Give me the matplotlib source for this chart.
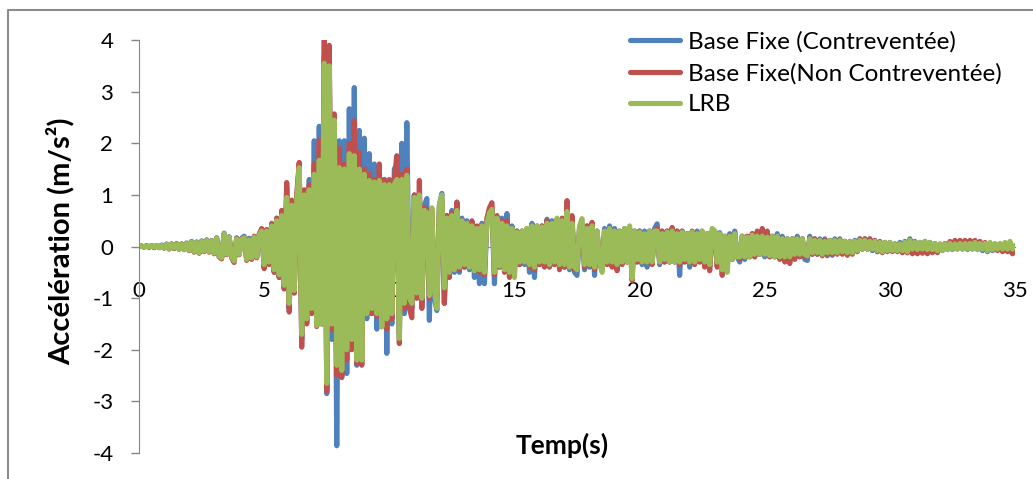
import numpy as np
import matplotlib
matplotlib.use('Agg')
import matplotlib.pyplot as plt
from matplotlib.lines import Line2D

plt.rcParams['font.family'] = ['Lato', 'DejaVu Sans']
plt.rcParams['axes.unicode_minus'] = False

# sampling step of the records (s)
dt = 0.1

# acceleration, one row per second (m/s2)
base_fixe_contreventee = [
    0, 0.01, -0.01, 0.02, -0.01, 0.02, -0.02, 0.02, -0.02, 0.03,
    -0.03, 0.05, -0.04, 0.05, -0.04, 0.06, -0.05, 0.05, -0.06, 0.07,
    -0.07, 0.1, -0.1, 0.09, -0.12, 0.11, -0.09, 0.13, -0.1, 0.12,
    -0.13, 0.17, -0.19, -0.22, 0.26, -0.15, 0.19, -0.2, -0.29, 0.17,
    -0.15, 0.16, 0.2, -0.25, 0.16, -0.22, 0.19, -0.2, 0.23, 0.32,
    -0.4, 0.32, -0.33, 0.42, -0.5, 0.55, -0.6, 0.65, -0.82, 1.15,
    -1.2, 0.85, -0.9, 0.95, 1.55, -1.8, 1.05, -1.45, 1.3, -1.25,
    2.05, -1.5, 2.33, -1.5, 3.7, -2.85, 3.6, -1.8, 2.4, -3.86,
    2.05, -2.5, 2.05, -2.46, 2.67, -1.9, 3.08, -2.3, 2.25, -1.68,
    2.1, -1.4, 1.8, -1.3, 1.6, -1.6, 1.5, -1.5, 1.3, -2.07,
    1.3, -1.5, 1.5, 1.6, -1.7, 2.0, -1.3, 2.4, -1.18, -1.2,
    1.0, -1.0, 1.0, -1.1, 0.8, 0.93, -1.43, 0.7, -1.0, -1.24,
    0.8, 1.03, -1.1, 0.6, -0.55, 0.7, -0.5, 0.86, -0.5, 0.55,
    -0.4, 0.5, -0.45, 0.4, -0.6, 0.35, -0.72, 0.45, -0.72, 0.5,
    0.7, 0.75, -0.72, 0.5, -0.4, 0.55, -0.45, 0.64, -0.5, 0.4,
    -0.4, 0.3, -0.35, 0.3, -0.35, 0.35, -0.5, 0.45, -0.6, 0.4,
    -0.35, 0.4, -0.35, 0.53, -0.35, 0.5, -0.35, 0.45, -0.4, 0.5,
    -0.4, 0.75, -0.45, 0.5, -0.5, -0.56, 0.35, 0.45, -0.45, 0.4,
    -0.4, 0.4, -0.56, 0.3, -0.35, -0.45, 0.35, -0.3, 0.4, -0.35,
    0.35, -0.4, 0.3, -0.3, 0.35, -0.3, 0.35, -0.5, 0.3, -0.3,
    0.3, -0.35, 0.3, -0.4, 0.3, -0.3, 0.35, 0.44, -0.35, 0.3,
    -0.3, 0.3, -0.3, 0.35, -0.3, 0.3, -0.56, 0.3, -0.3, 0.25,
    -0.4, 0.28, -0.3, 0.3, -0.3, 0.25, -0.35, 0.25, -0.4, 0.3,
    0.3, -0.3, 0.27, -0.35, 0.2, -0.3, 0.25, -0.25, 0.3, -0.2,
    -0.3, 0.2, -0.25, 0.2, -0.2, 0.25, -0.2, 0.2, -0.15, 0.2,
    -0.2, 0.2, -0.2, 0.2, -0.2, 0.25, -0.2, 0.2, -0.2, 0.15,
    -0.25, 0.15, -0.2, 0.2, -0.2, 0.15, -0.25, -0.27, 0.2, -0.15,
    0.15, -0.15, 0.15, -0.15, 0.15, -0.18, 0.12, -0.17, 0.15, -0.12,
    0.15, -0.12, 0.1, -0.12, 0.1, -0.1, 0.12, -0.08, 0.15, -0.05,
    0.15, -0.05, 0.15, -0.08, 0.1, -0.1, 0.08, -0.1, 0.08, -0.08,
    0.08, -0.08, 0.05, -0.08, 0.08, -0.1, 0.1, -0.12, 0.15, -0.05,
    0.1, -0.05, 0.08, -0.06, 0.1, -0.05, 0.08, -0.06, 0.06, -0.08,
    0.05, -0.08, 0.05, -0.06, 0.06, -0.06, 0.05, -0.05, 0.06, -0.05,
    0.06, -0.06, 0.08, -0.05, 0.06, -0.06, 0.08, -0.08, 0.06, -0.1,
    0.06, -0.08, 0.05, -0.06, 0.05, -0.06, 0.06, -0.05, 0.08, -0.08,
    -0.04]

base_fixe_non_contreventee = [
    0, 0.01, -0.01, 0.01, -0.02, 0.02, -0.02, 0.02, -0.02, 0.02,
    -0.03, 0.04, -0.05, 0.05, -0.04, 0.05, -0.05, 0.05, -0.06, 0.06,
    -0.08, 0.09, -0.11, 0.08, -0.13, 0.1, -0.1, 0.12, -0.11, 0.11,
    -0.14, 0.16, -0.2, -0.24, 0.24, -0.16, 0.18, -0.22, -0.31, 0.16,
    -0.16, 0.15, 0.18, -0.27, 0.14, -0.25, 0.2, -0.22, 0.24, 0.35,
    -0.43, 0.33, -0.35, 0.45, -0.5, 0.55, -0.6, 0.7, -0.82, 1.24,
    -1.27, 0.9, -0.9, 1.0, 1.63, -1.95, 1.1, -1.5, 1.2, -1.3,
    1.6, -1.55, 2.05, -1.5, 4.0, -2.8, 3.9, -1.6, 2.57, -2.5,
    1.9, -2.54, 1.6, -2.2, 2.0, -2.0, 2.44, -2.27, 1.82, -2.3,
    1.5, -1.3, 1.4, -1.3, 1.3, -1.35, 1.6, -1.4, 1.3, -1.6,
    1.28, -1.4, 1.3, 1.76, -1.88, 1.4, -1.2, 1.5, -1.2, -1.38,
    1.0, -1.0, 1.28, -1.2, 0.75, 0.7, -1.0, 0.7, -0.9, -1.0,
    0.75, 0.9, -1.1, 0.6, -0.6, 0.65, -0.45, 0.86, -0.45, 0.5,
    -0.4, 0.45, -0.4, 0.5, -0.45, 0.4, -0.5, 0.4, -0.55, 0.55,
    0.75, 0.85, -0.55, 0.6, -0.4, 0.5, -0.5, 0.5, -0.6, 0.35,
    -0.45, 0.3, -0.35, 0.3, -0.3, 0.3, -0.4, 0.4, -0.45, 0.35,
    -0.35, 0.4, -0.4, 0.5, -0.4, 0.45, -0.35, 0.5, -0.45, 0.55,
    -0.4, 0.89, -0.4, 0.6, -0.45, -0.45, 0.35, 0.45, -0.4, 0.4,
    -0.35, 0.47, -0.45, 0.3, -0.3, -0.4, 0.3, -0.35, 0.35, -0.4,
    0.3, -0.47, 0.3, -0.35, 0.3, -0.3, 0.35, -0.66, 0.3, -0.3,
    0.3, -0.3, 0.25, -0.3, 0.3, -0.35, 0.3, 0.35, -0.3, 0.3,
    -0.3, 0.3, -0.3, 0.37, -0.3, 0.3, -0.35, 0.3, -0.3, 0.25,
    -0.3, 0.3, -0.35, 0.25, -0.3, 0.3, -0.4, 0.25, -0.47, 0.3,
    0.25, -0.4, 0.25, -0.56, 0.2, -0.35, 0.2, -0.25, 0.25, -0.2,
    -0.25, 0.2, -0.2, 0.2, -0.2, 0.25, -0.2, 0.3, -0.15, 0.35,
    -0.15, 0.3, -0.2, 0.2, -0.2, 0.2, -0.25, 0.15, -0.3, 0.15,
    -0.33, 0.15, -0.25, 0.15, -0.2, 0.15, -0.2, -0.15, 0.15, -0.15,
    0.15, -0.15, 0.12, -0.18, 0.12, -0.15, 0.12, -0.15, 0.12, -0.15,
    0.12, -0.15, 0.1, -0.17, 0.1, -0.15, 0.1, -0.1, 0.15, -0.05,
    0.15, -0.05, 0.15, -0.05, 0.12, -0.1, 0.1, -0.12, 0.08, -0.1,
    0.05, -0.1, 0.05, -0.1, 0.05, -0.12, 0.05, -0.12, 0.1, -0.14,
    -0.04, -0.14, -0.05, -0.13, -0.04, -0.14, -0.05, -0.12, -0.02, -0.12,
    0.04, -0.05, 0.06, -0.04, 0.1, -0.02, 0.12, 0.02, 0.12, 0.0,
    0.12, 0.03, 0.12, 0.04, 0.12, 0.02, 0.1, -0.02, 0.08, -0.05,
    0.05, -0.06, 0.04, -0.08, 0.02, -0.1, 0.0, -0.1, -0.05, -0.14,
    -0.1]

lrb = [
    0, 0.01, -0.01, 0.01, -0.01, 0.02, -0.01, 0.02, -0.02, 0.02,
    -0.03, 0.04, -0.04, 0.05, -0.03, 0.05, -0.05, 0.04, -0.06, 0.06,
    -0.07, 0.09, -0.1, 0.08, -0.12, 0.1, -0.09, 0.12, -0.1, 0.11,
    -0.13, 0.16, -0.18, -0.22, 0.25, -0.15, 0.18, -0.2, -0.28, 0.15,
    -0.15, 0.14, 0.17, -0.25, 0.13, -0.22, 0.18, -0.2, 0.22, 0.3,
    -0.35, 0.3, -0.3, 0.4, -0.45, 0.5, -0.55, 0.6, -0.75, 0.95,
    -1.1, 0.8, -0.85, 0.9, 1.53, -1.7, 1.0, -1.4, 1.1, -1.2,
    1.4, -1.53, 1.67, -1.5, 3.55, -2.65, 3.5, -1.5, 2.45, -2.3,
    1.53, -2.4, 1.5, -2.0, 1.8, -1.8, 1.76, -2.2, 1.5, -2.2,
    1.4, -1.3, 1.28, -1.2, 1.25, -1.3, 1.28, -1.56, 1.2, -1.4,
    1.2, -1.3, 1.2, 1.3, -1.78, 1.3, -1.1, 1.38, -1.0, -1.1,
    0.95, -0.9, 1.0, -1.0, 0.7, 0.65, -0.95, 0.75, -0.85, -1.2,
    0.8, 1.0, -0.8, 0.55, -0.5, 0.6, -0.45, 0.7, -0.4, 0.5,
    -0.35, 0.45, -0.4, 0.4, -0.47, 0.35, -0.45, 0.4, -0.5, 0.45,
    0.65, 0.72, -0.5, 0.55, -0.38, 0.45, -0.45, 0.4, -0.5, 0.35,
    -0.6, 0.28, -0.3, 0.3, -0.3, 0.35, -0.35, 0.4, -0.4, 0.4,
    -0.3, 0.38, -0.3, 0.45, -0.35, 0.45, -0.3, 0.55, -0.35, 0.5,
    -0.35, 0.68, -0.4, 0.45, -0.4, -0.45, 0.4, 0.54, -0.35, 0.35,
    -0.35, 0.4, -0.4, 0.3, -0.3, -0.5, 0.3, -0.3, 0.35, -0.3,
    0.3, -0.35, 0.3, -0.3, 0.35, -0.3, 0.4, -0.62, 0.3, -0.25,
    0.28, -0.3, 0.25, -0.3, 0.3, -0.3, 0.3, 0.3, -0.3, 0.25,
    -0.25, 0.28, -0.3, 0.3, -0.3, 0.25, -0.3, 0.28, -0.25, 0.25,
    -0.3, 0.28, -0.3, 0.25, -0.25, 0.3, -0.3, 0.25, -0.35, 0.35,
    0.3, -0.3, 0.25, -0.45, 0.2, -0.5, 0.2, -0.25, 0.25, -0.2,
    -0.2, 0.2, -0.2, 0.18, -0.2, 0.22, -0.15, 0.2, -0.15, 0.2,
    -0.15, 0.18, -0.18, 0.2, -0.2, 0.2, -0.2, 0.15, -0.2, 0.15,
    -0.2, 0.15, -0.15, 0.15, -0.15, 0.15, -0.15, -0.18, 0.15, -0.12,
    0.12, -0.12, 0.12, -0.15, 0.1, -0.12, 0.12, -0.12, 0.12, -0.12,
    0.12, -0.1, 0.1, -0.12, 0.1, -0.12, 0.1, -0.08, 0.12, -0.05,
    0.12, -0.05, 0.1, -0.05, 0.1, -0.08, 0.08, -0.1, 0.08, -0.08,
    0.08, -0.08, 0.05, -0.08, 0.05, -0.08, 0.08, -0.1, 0.12, -0.05,
    0.08, -0.06, 0.08, -0.05, 0.1, -0.06, 0.08, -0.06, 0.06, -0.08,
    0.05, -0.08, 0.05, -0.06, 0.06, -0.05, 0.05, -0.05, 0.06, -0.05,
    0.06, -0.05, 0.06, -0.05, 0.08, -0.06, 0.06, -0.05, 0.06, -0.08,
    0.08, -0.06, 0.06, -0.05, 0.06, -0.05, 0.08, -0.05, 0.1, -0.05,
    0.02]

series_labels = ['Base Fixe (Contreventée)', 'Base Fixe(Non Contreventée)', 'LRB']
series_colors = ['#4F81BD', '#C0504D', '#9BBB59']
x_ticks = [0, 5, 10, 15, 20, 25, 30, 35]
y_ticks = [-4, -3, -2, -1, 0, 1, 2, 3, 4]

# time axis of the samples
temps = np.arange(len(lrb)) * dt

fig = plt.figure(figsize=(10.33, 4.79), dpi=100)
ax = fig.add_axes([0.1346, 0.0543, 0.848, 0.862])

# draw the three records, LRB on top
for values, label, color in zip([base_fixe_contreventee, base_fixe_non_contreventee, lrb],
                                series_labels, series_colors):
    ax.plot(temps, values, color=color, linewidth=3.7, label=label,
            solid_joinstyle='round', solid_capstyle='round')

ax.set_xlim(0, 35)
ax.set_ylim(-4, 4)
ax.set_xticks(x_ticks)
ax.set_yticks(y_ticks)

# axes in the excel way: only a vertical axis, x axis crosses at 0
for side in ['top', 'right']:
    ax.spines[side].set_visible(False)
ax.spines['bottom'].set_position(('data', 0))
ax.spines['bottom'].set_zorder(0)
ax.spines['bottom'].set_color('#868686')
ax.spines['left'].set_color('#868686')
ax.tick_params(axis='y', direction='out', length=5.5, width=1, color='#868686',
               pad=13, labelsize=16, labelcolor='#000000')
ax.tick_params(axis='x', length=0, pad=25, labelsize=16, labelcolor='#000000')

# axis titles
fig.text(60 / 1033, 1 - 241 / 479, 'Accélération (m/s²)', rotation=90,
         ha='center', va='center', fontsize=21, fontweight='bold')
fig.text(562 / 1033, 1 - 445 / 479, 'Temp(s)', ha='center', va='center',
         fontsize=19, fontweight='bold')

# legend at the top right
fig.legend(loc='upper left', bbox_to_anchor=(630 / 1033, 1 - 31 / 479),
           frameon=False, fontsize=17.5, handlelength=2.06, handletextpad=0.33,
           borderpad=0, borderaxespad=0, labelspacing=0.42)

# outer chart frame (left and top edges visible)
fig.add_artist(Line2D([8 / 1033, 8 / 1033, 1.0], [0.0, 1 - 10 / 479, 1 - 10 / 479],
                      transform=fig.transFigure, color='#8c8c8c', linewidth=1.5))

plt.savefig('out.png', dpi=100)
